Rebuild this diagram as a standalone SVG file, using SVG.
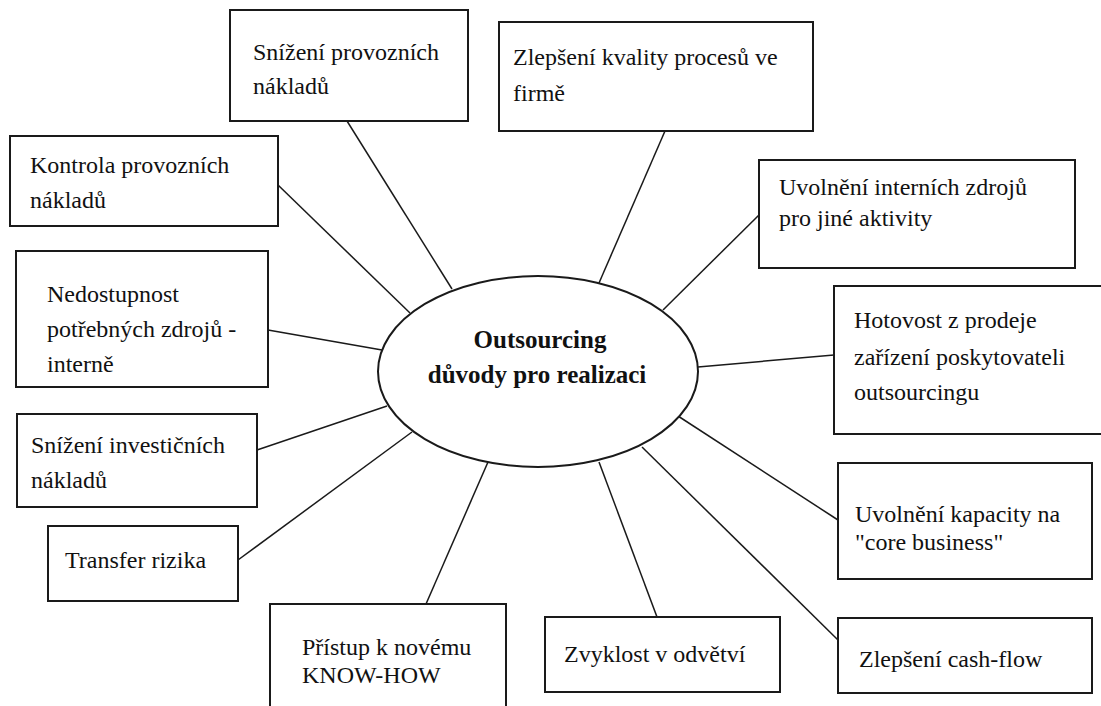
<svg xmlns="http://www.w3.org/2000/svg" width="1101" height="706" viewBox="0 0 1101 706">
<style>
.box{fill:#fff;stroke:#1a1a1a;stroke-width:2}
.conn{stroke:#1a1a1a;stroke-width:1.5;fill:none}
</style>
<rect width="1101" height="706" fill="#fff"/>
<g id="connectors">
<line class="conn" x1="347" y1="121" x2="452" y2="289"/>
<line class="conn" x1="665" y1="131" x2="599" y2="283"/>
<line class="conn" x1="278" y1="185" x2="410" y2="313"/>
<line class="conn" x1="759" y1="215" x2="663" y2="310"/>
<line class="conn" x1="268" y1="330" x2="382" y2="350"/>
<line class="conn" x1="834" y1="355" x2="698" y2="367"/>
<line class="conn" x1="257" y1="450" x2="387" y2="406"/>
<line class="conn" x1="238" y1="560" x2="412" y2="432"/>
<line class="conn" x1="426" y1="604" x2="488" y2="462"/>
<line class="conn" x1="657" y1="617" x2="599" y2="462"/>
<line class="conn" x1="838" y1="520" x2="678" y2="416"/>
<line class="conn" x1="838" y1="640" x2="642" y2="447"/>
</g>
<g id="center">
<ellipse cx="538" cy="371.5" rx="160" ry="95.5" fill="#fff" stroke="#1a1a1a" stroke-width="2"/>
<text x="540" y="348" font-family="Liberation Serif" font-size="25" font-weight="bold" fill="#111" text-anchor="middle">Outsourcing</text>
<text x="537" y="383" font-family="Liberation Serif" font-size="25" font-weight="bold" fill="#111" text-anchor="middle">důvody pro realizaci</text>
</g>
<g id="n1">
<rect class="box" x="230" y="10" width="238" height="111"/>
<text x="253" y="60" font-family="Liberation Serif" font-size="24" fill="#111">Snížení provozních</text>
<text x="253" y="94" font-family="Liberation Serif" font-size="24" fill="#111">nákladů</text>
</g>
<g id="n2">
<rect class="box" x="499" y="22" width="314" height="109"/>
<text x="513" y="65" font-family="Liberation Serif" font-size="24" fill="#111">Zlepšení kvality procesů ve</text>
<text x="513" y="101" font-family="Liberation Serif" font-size="24" fill="#111">firmě</text>
</g>
<g id="n3">
<rect class="box" x="10" y="136" width="268" height="90"/>
<text x="30" y="173" font-family="Liberation Serif" font-size="24" fill="#111">Kontrola provozních</text>
<text x="30" y="208" font-family="Liberation Serif" font-size="24" fill="#111">nákladů</text>
</g>
<g id="n4">
<rect class="box" x="759" y="160" width="316" height="108"/>
<text x="779" y="195" font-family="Liberation Serif" font-size="24" fill="#111">Uvolnění interních zdrojů</text>
<text x="779" y="226" font-family="Liberation Serif" font-size="24" fill="#111">pro jiné aktivity</text>
</g>
<g id="n5">
<rect class="box" x="16" y="251" width="252" height="136"/>
<text x="47" y="302" font-family="Liberation Serif" font-size="24" fill="#111">Nedostupnost</text>
<text x="47" y="337" font-family="Liberation Serif" font-size="24" fill="#111">potřebných zdrojů -</text>
<text x="47" y="372" font-family="Liberation Serif" font-size="24" fill="#111">interně</text>
</g>
<g id="n6">
<rect class="box" x="834" y="286" width="280" height="148"/>
<text x="854" y="328" font-family="Liberation Serif" font-size="24" fill="#111">Hotovost z prodeje</text>
<text x="854" y="365" font-family="Liberation Serif" font-size="24" fill="#111">zařízení poskytovateli</text>
<text x="854" y="400" font-family="Liberation Serif" font-size="24" fill="#111">outsourcingu</text>
</g>
<g id="n7">
<rect class="box" x="17" y="414" width="240" height="93"/>
<text x="31" y="453" font-family="Liberation Serif" font-size="24" fill="#111">Snížení investičních</text>
<text x="31" y="488" font-family="Liberation Serif" font-size="24" fill="#111">nákladů</text>
</g>
<g id="n8">
<rect class="box" x="48" y="526" width="190" height="75"/>
<text x="65" y="568" font-family="Liberation Serif" font-size="24" fill="#111">Transfer rizika</text>
</g>
<g id="n9">
<rect class="box" x="270" y="604" width="236" height="120"/>
<text x="302" y="655" font-family="Liberation Serif" font-size="24" fill="#111">Přístup k novému</text>
<text x="302" y="683" font-family="Liberation Serif" font-size="24" fill="#111">KNOW-HOW</text>
</g>
<g id="n10">
<rect class="box" x="545" y="617" width="235" height="75"/>
<text x="564" y="662" font-family="Liberation Serif" font-size="24" fill="#111">Zvyklost v odvětví</text>
</g>
<g id="n11">
<rect class="box" x="838" y="463" width="254" height="116"/>
<text x="855" y="522" font-family="Liberation Serif" font-size="24" fill="#111">Uvolnění kapacity na</text>
<text x="855" y="550" font-family="Liberation Serif" font-size="24" fill="#111">"core business"</text>
</g>
<g id="n12">
<rect class="box" x="838" y="618" width="254" height="75"/>
<text x="859" y="667" font-family="Liberation Serif" font-size="24" fill="#111">Zlepšení cash-flow</text>
</g>
</svg>
